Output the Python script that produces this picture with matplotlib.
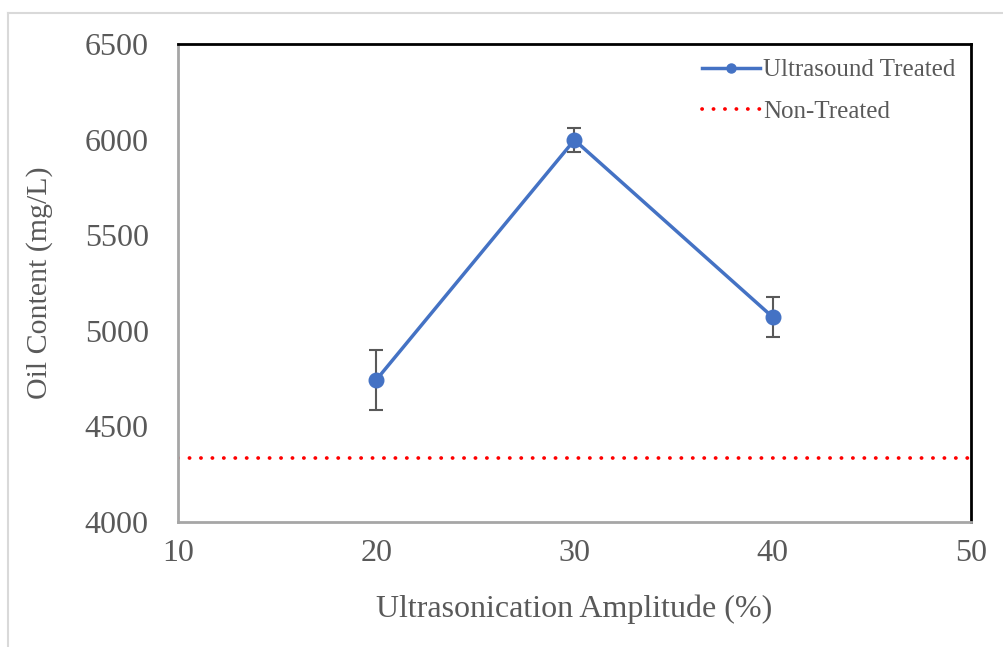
import matplotlib
matplotlib.use('Agg')
import matplotlib.pyplot as plt
from matplotlib.lines import Line2D

# amplitude (%) vs oil content (mg/L)
amplitude = [20, 30, 40]
oil_content = [4743, 5998, 5072]
oil_err = [155, 65, 105]
non_treated = 4335

x_ticks = [10, 20, 30, 40, 50]
y_ticks = [4000, 4500, 5000, 5500, 6000, 6500]

plt.rcParams['font.family'] = ['Liberation Serif', 'DejaVu Serif']
text_color = '#595959'
blue = '#4472C4'
red = '#FF0000'
dots = (0, (0.05, 3.0))

fig = plt.figure(figsize=(10.04, 6.47), dpi=100)
ax = fig.add_axes([0.1773, 0.1932, 0.7897, 0.7388])

# light border lines along the top and left of the chart area
fig.lines.append(Line2D([0.008, 0.008], [0.0, 0.98], transform=fig.transFigure,
                        color='#d9d9d9', linewidth=1.5))
fig.lines.append(Line2D([0.008, 1.0], [0.98, 0.98], transform=fig.transFigure,
                        color='#d9d9d9', linewidth=1.5))

ax.errorbar(amplitude, oil_content, yerr=oil_err, color=blue, linewidth=2.5,
            marker='o', markersize=10.5, ecolor='#595959', elinewidth=1.5,
            capsize=5, capthick=1.5, zorder=3)
ax.axhline(non_treated, color=red, linestyle=dots, linewidth=2.7,
           dash_capstyle='round')

ax.set_xlim(10, 50)
ax.set_ylim(4000, 6500)
ax.set_xticks(x_ticks)
ax.set_yticks(y_ticks)
ax.tick_params(axis='both', length=0, labelsize=23, colors=text_color)
ax.tick_params(axis='y', pad=21)
ax.tick_params(axis='x', pad=12)

for side in ['top', 'right']:
    ax.spines[side].set_color('black')
    ax.spines[side].set_linewidth(2)
for side in ['left', 'bottom']:
    ax.spines[side].set_color('#a6a6a6')
    ax.spines[side].set_linewidth(2)

ax.set_xlabel('Ultrasonication Amplitude (%)', fontsize=23, color=text_color, labelpad=19)
ax.set_ylabel('Oil Content (mg/L)', fontsize=21.5, color=text_color, labelpad=23)

handles = [
    Line2D([], [], color=blue, linewidth=2.5, marker='o', markersize=6.5),
    Line2D([], [], color=red, linestyle=dots, linewidth=2.7, dash_capstyle='round'),
]
leg = ax.legend(handles, ['Ultrasound Treated', 'Non-Treated'], loc='upper right',
                frameon=False, fontsize=18, handlelength=2.3, labelspacing=0.75,
                borderaxespad=0.2, handletextpad=0.15)
for t in leg.get_texts():
    t.set_color(text_color)

fig.savefig('out.png', dpi=100)
